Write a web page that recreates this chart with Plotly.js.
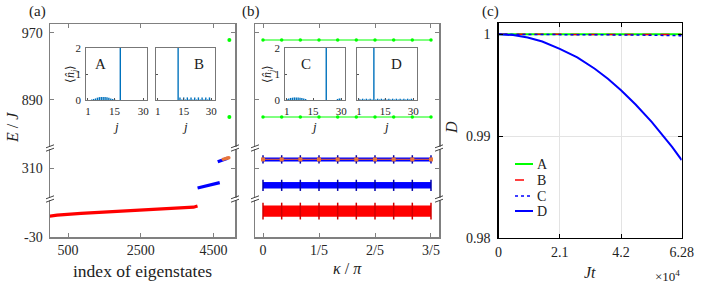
<!DOCTYPE html>
<html><head><meta charset="utf-8">
<script src="https://cdn.plot.ly/plotly-3.0.1.min.js"></script>
<style>html,body{margin:0;padding:0;background:#fff}</style>
</head><body>
<div id="chart" style="width:702px;height:284px"></div>
<script>
// ---------- data ----------
// panel (a): energies vs index of eigenstates
const redIdx = [1, 200, 857, 1800, 2699, 3606, 3950, 4060];
const redE = [-2.6, -1.2, 1.2, 3.6, 5.5, 7.8, 9.2, 10.8];
const blueLowIdx = [4061, 4300, 4500, 4670];
const blueLowE = [286, 288.5, 290.5, 292.4];
const blueUpIdx = [4615, 4700, 4800, 4890];
const blueUpE = [317.4, 318.8, 320.4, 321.8];
const orangeIdx = [4770, 4820, 4860, 4890, 4920];
const orangeE = [320.6, 321.2, 321.6, 322.0, 322.4];
const greenIdx = [4935, 4935];
const greenE = [961.6, 869.7];
// panel (b): energies vs kappa/pi
const kappa = [0, 0.0667, 0.1333, 0.2, 0.2667, 0.3333, 0.4, 0.4667, 0.5333, 0.6];
const greenHigh = [961.6, 961.6, 961.6, 961.6, 961.6, 961.6, 961.6, 961.6, 961.6, 961.6];
const greenLow = [869.7, 869.7, 869.7, 869.7, 869.7, 869.7, 869.7, 869.7, 869.7, 869.7];
const topBandMin = [318.4, 318.4, 318.4, 318.4, 318.4, 318.4, 318.4, 318.4, 318.4, 318.4];
const topBandMax = [322.0, 322.0, 322.0, 322.0, 322.0, 322.0, 322.0, 322.0, 322.0, 322.0];
const topBandMid = [320.3, 320.3, 320.3, 320.3, 320.3, 320.3, 320.3, 320.3, 320.3, 320.3];
const blueBandMin = [286.0, 286.0, 286.0, 286.0, 286.0, 286.0, 286.0, 286.0, 286.0, 286.0];
const blueBandMax = [292.5, 292.5, 292.5, 292.5, 292.5, 292.5, 292.5, 292.5, 292.5, 292.5];
const blueBandMid = [289.2, 289.2, 289.2, 289.2, 289.2, 289.2, 289.2, 289.2, 289.2, 289.2];
const redBandMin = [-2.6, -2.6, -2.6, -2.6, -2.6, -2.6, -2.6, -2.6, -2.6, -2.6];
const redBandMax = [10.8, 10.8, 10.8, 10.8, 10.8, 10.8, 10.8, 10.8, 10.8, 10.8];
const redBandMid = [4.1, 4.1, 4.1, 4.1, 4.1, 4.1, 4.1, 4.1, 4.1, 4.1];
// insets: <n_j> vs j
const sites = [1,2,3,4,5,6,7,8,9,10,11,12,13,14,15,16,17,18,19,20,21,22,23,24,25,26,27,28,29,30];
const nA = [0,0,0.02,0.04,0.06,0.09,0.11,0.12,0.12,0.12,0.11,0.09,0.06,0.04,0.02,0,0,2,0,0,0,0,0,0,0,0,0,0,0,0];
const nB = [0,0,0,0,0,0,0,0,0,0,0,2,0.1,0.02,0.1,0.02,0.1,0.02,0.1,0.02,0.1,0.02,0.1,0.02,0.1,0.02,0.1,0.02,0.1,0.02];
const nC = [0.04,0.06,0.08,0.09,0.1,0.1,0.1,0.09,0.08,0.06,0.04,0,0,0,0,0,0,0,0,0,0,2,0,0,0,0,0,0.04,0.06,0.06];
const nD = [0.05,0.02,0.05,0.02,0.05,0.02,0.05,0.02,2,0.02,0.05,0.02,0.05,0.02,0.05,0.02,0.05,0.02,0.05,0.02,0.05,0.02,0.05,0.02,0.05,0.02,0.05,0.02,0.05,0.02];
// panel (c): D vs Jt
const Jt = [0, 5000, 10000, 15000, 21000, 27000, 33000, 37500, 42000, 47000, 52500, 56500, 59500, 62800];
const dA = [1,1,1,1,1,1,1,1,1,1,1,1,1,1];
const dB = [1,1,1,1,1,1,0.99999,0.99999,0.99999,0.99999,0.99998,0.99998,0.99998,0.99998];
const dC = [1,1,1,0.99999,0.99999,0.99998,0.99997,0.99996,0.99995,0.99993,0.99991,0.99989,0.99988,0.99986];
const dD = [1,0.99992,0.99968,0.99929,0.99857,0.99773,0.99662,0.99563,0.99451,0.99311,0.9914,0.99004,0.98895,0.98765];
const seriesNames = ['A', 'B', 'C', 'D'];
// tick labels
const aXTicks = [500, 2500, 4500];
const aXText = ['500', '2500', '4500'];
const bXTicks = [0, 0.2, 0.4, 0.6];
const bXText = ['0', '1/5', '2/5', '3/5'];
const cXTicks = [0, 21000, 42000, 62800];
const cXText = ['0', '2.1', '4.2', '6.28'];
const cYTicks = [0.98, 0.99, 1];
const cYText = ['0.98', '0.99', '1'];

// ---------- helpers ----------
const W = 702, H = 284;
const PX = p => p / W;
const PY = p => 1 - p / H;
const SERIF = 'Liberation Serif';
const GRAY = '#808080';

const grayAx = {showline:true, linecolor:GRAY, linewidth:1.5, ticks:'inside', ticklen:4, tickcolor:GRAY,
  showgrid:false, zeroline:false, tickfont:{family:SERIF, size:14, color:'#262626'}, tickmode:'array', fixedrange:true};
const insetAx = {showline:true, linecolor:'#555', linewidth:0.8, mirror:true, ticks:'inside', ticklen:2, tickcolor:'#555',
  showgrid:false, zeroline:false, tickfont:{family:SERIF, size:11, color:'#262626'}, tickmode:'array', fixedrange:true};

const segTop = [PY(148), PY(24)], segMid = [PY(199), PY(148)], segBot = [PY(237), PY(199)];
const rTop = [832.7, 980.7], rMid = [272.8, 334], rBot = [-30, 20];

const traces = [];
const noLeg = {showlegend:false, hoverinfo:'skip'};
// panel (a)
traces.push(Object.assign({x:redIdx, y:redE, xaxis:'x', yaxis:'y3', mode:'lines', line:{color:'#ff0000', width:3.2}}, noLeg));
traces.push(Object.assign({x:blueLowIdx, y:blueLowE, xaxis:'x', yaxis:'y2', mode:'lines', line:{color:'#0000ff', width:3.2}}, noLeg));
traces.push(Object.assign({x:blueUpIdx, y:blueUpE, xaxis:'x', yaxis:'y2', mode:'lines', line:{color:'#0000ff', width:3.2}}, noLeg));
traces.push(Object.assign({x:orangeIdx, y:orangeE, xaxis:'x', yaxis:'y2', mode:'markers', marker:{color:'#e8743b', size:3.5, symbol:'circle'}}, noLeg));
traces.push(Object.assign({x:greenIdx, y:greenE, xaxis:'x', yaxis:'y', mode:'markers', marker:{color:'#00ff00', size:4}}, noLeg));
traces.push(Object.assign({x:[], y:[], xaxis:'x8', yaxis:'y', mode:'markers'}, noLeg));
// panel (b)
traces.push(Object.assign({x:kappa, y:greenHigh, xaxis:'x2', yaxis:'y4', mode:'lines+markers', line:{color:'#00ff00', width:1}, marker:{color:'#00ff00', size:3.5}}, noLeg));
traces.push(Object.assign({x:kappa, y:greenLow, xaxis:'x2', yaxis:'y4', mode:'lines+markers', line:{color:'#00ff00', width:1}, marker:{color:'#00ff00', size:3.5}}, noLeg));
traces.push(Object.assign({x:[], y:[], xaxis:'x9', yaxis:'y4', mode:'markers'}, noLeg));
function band(mn, mx, mid, ax, col, mcol, msize){
  traces.push(Object.assign({x:kappa, y:mn, xaxis:'x2', yaxis:ax, mode:'lines', line:{color:col, width:1}}, noLeg));
  traces.push(Object.assign({x:kappa, y:mx, xaxis:'x2', yaxis:ax, mode:'lines', line:{color:col, width:1}, fill:'tonexty', fillcolor:col}, noLeg));
  traces.push(Object.assign({x:kappa, y:mid, xaxis:'x2', yaxis:ax, mode:'markers', marker:{symbol:'line-ns-open', size:msize, color:mcol, line:{color:mcol, width:1.5}}}, noLeg));
}
band(redBandMin, redBandMax, redBandMid, 'y6', '#ff0000', '#d00000', 12);
band(blueBandMin, blueBandMax, blueBandMid, 'y5', '#0000ff', '#0000aa', 8);
band(topBandMin, topBandMax, topBandMid, 'y5', '#0000ff', '#0000aa', 6);
traces.push(Object.assign({x:kappa, y:topBandMid, xaxis:'x2', yaxis:'y5', mode:'lines+markers', line:{color:'#c0504d', width:1.3}, marker:{color:'#e8743b', size:4, symbol:'square'}}, noLeg));
// insets
const insetCol = '#0072bd';
[[nA,'x4','y8'],[nB,'x5','y9'],[nC,'x6','y10'],[nD,'x7','y11']].forEach(([v,xa,ya]) => {
  traces.push(Object.assign({type:'bar', x:sites, y:v, xaxis:xa, yaxis:ya, width:0.75, marker:{color:insetCol, line:{width:0}}}, noLeg));
});
// panel (c)
const cStyles = [
  {color:'#00ff00', width:2, dash:'solid'},
  {color:'#ff0000', width:1.5, dash:'dash'},
  {color:'#0000ff', width:1.5, dash:'dot'},
  {color:'#0000ff', width:2, dash:'solid'}
];
[dA, dB, dC, dD].forEach((d, i) => {
  traces.push({x:Jt, y:d, xaxis:'x3', yaxis:'y7', mode:'lines', name:seriesNames[i], line:cStyles[i], hoverinfo:'skip', showlegend:false});
});

// ---------- layout ----------
const layout = {
  width:W, height:H, margin:{l:0, r:0, t:0, b:0}, paper_bgcolor:'#fff', plot_bgcolor:'#fff',
  font:{family:SERIF, size:14, color:'#222'},
  showlegend:false,
  // panel (a)
  xaxis: Object.assign({}, grayAx, {domain:[PX(50), PX(235)], range:[5, 5090], anchor:'y3', tickvals:aXTicks, ticktext:aXText, ticklabelstandoff:0}),
  xaxis8: Object.assign({}, grayAx, {overlaying:'x', anchor:'y', side:'top', range:[5, 5090], tickvals:aXTicks, ticktext:aXText, showticklabels:false}),
  yaxis: Object.assign({}, grayAx, {domain:segTop, range:rTop, anchor:'x', mirror:'ticks', tickvals:[890, 970], ticktext:['890','970'], ticklabelstandoff:3}),
  yaxis2: Object.assign({}, grayAx, {domain:segMid, range:rMid, anchor:'x', mirror:'ticks', tickvals:[310], ticktext:['310'], ticklabelstandoff:3}),
  yaxis3: Object.assign({}, grayAx, {domain:segBot, range:rBot, anchor:'x', mirror:'ticks', tickvals:[-30], ticktext:['-30'], ticklabelstandoff:3}),
  // panel (b)
  xaxis2: Object.assign({}, grayAx, {domain:[PX(255), PX(439)], range:[-0.0286, 0.6286], anchor:'y6', tickvals:bXTicks, ticktext:bXText, ticklabelstandoff:0}),
  xaxis9: Object.assign({}, grayAx, {overlaying:'x2', anchor:'y4', side:'top', range:[-0.0286, 0.6286], tickvals:bXTicks, ticktext:bXText, showticklabels:false}),
  yaxis4: Object.assign({}, grayAx, {domain:segTop, range:rTop, anchor:'x2', mirror:'ticks', tickvals:[890, 970], showticklabels:false}),
  yaxis5: Object.assign({}, grayAx, {domain:segMid, range:rMid, anchor:'x2', mirror:'ticks', tickvals:[310], showticklabels:false}),
  yaxis6: Object.assign({}, grayAx, {domain:segBot, range:rBot, anchor:'x2', mirror:'ticks', tickvals:[-30], showticklabels:false}),
  // panel (c)
  xaxis3: {domain:[PX(498.5), PX(681.7)], range:[0, 62800], anchor:'y7', showline:true, linecolor:'#000', linewidth:1.2, mirror:'ticks',
    ticks:'inside', ticklen:4, tickcolor:'#000', showgrid:true, gridcolor:'#e3e3e3', gridwidth:1, zeroline:false,
    tickmode:'array', tickvals:cXTicks, ticktext:cXText, tickfont:{family:SERIF, size:14, color:'#222'}, ticklabelstandoff:1, fixedrange:true},
  yaxis7: {domain:[PY(238), PY(23.3)], range:[0.98, 1.00108], anchor:'x3', showline:true, linecolor:'#000', linewidth:1.2, mirror:'ticks',
    ticks:'inside', ticklen:4, tickcolor:'#000', showgrid:true, gridcolor:'#e3e3e3', gridwidth:1, zeroline:false,
    tickmode:'array', tickvals:cYTicks, ticktext:cYText, tickfont:{family:SERIF, size:14, color:'#222'}, ticklabelstandoff:4, fixedrange:true},
  annotations:[], shapes:[]
};
// insets
const insetBoxes = [[86,147,true,'x4','y8'],[156,215,false,'x5','y9'],[285,345,true,'x6','y10'],[357,417,false,'x7','y11']];
insetBoxes.forEach(([l,r,lab,xa,ya]) => {
  layout['xaxis'+xa.slice(1)] = Object.assign({}, insetAx, {domain:[PX(l), PX(r)], range:[0, 32], anchor:ya, tickvals:[1,15,30], ticktext:['1','15','30'], ticklabelstandoff:1});
  layout['yaxis'+ya.slice(1)] = Object.assign({}, insetAx, {domain:[PY(100), PY(48)], range:[0, 2], anchor:xa, tickvals:[0,1,2], ticktext:['0','1','2'], showticklabels:lab, ticklabelstandoff:2});
});

function ann(x, y, text, size, extra){
  layout.annotations.push(Object.assign({xref:'paper', yref:'paper', x:PX(x), y:PY(y), text:text, showarrow:false,
    xanchor:'center', yanchor:'middle', font:{family:SERIF, size:size, color:'#222'}}, extra||{}));
}
ann(37, 12, '(a)', 15);
ann(251, 12, '(b)', 15);
ann(490, 12, '(c)', 15);
ann(12, 128, '<i>E</i> / <i>J</i>', 16, {textangle:-90});
ann(142, 271, 'index of eigenstates', 17.5);
ann(347, 268, '<i>κ</i> / <i>π</i>', 16);
ann(451, 128, '<i>D</i>', 16, {textangle:-90});
ann(590, 272, '<i>Jt</i>', 16);
ann(667, 276, '×10<sup>4</sup>', 13);
ann(100, 64, 'A', 15);
ann(199, 64, 'B', 15);
ann(306, 64, 'C', 15);
ann(396, 64, 'D', 15);
[115.5, 184.5, 314, 386].forEach(cx => ann(cx, 126, '<i>j</i>', 13));
ann(71, 74, '⟨<i>n̂<sub>j</sub></i>⟩', 12, {textangle:-90});
ann(268, 74, '⟨<i>n̂<sub>j</sub></i>⟩', 12, {textangle:-90});

// legend of panel (c): sample line + name for each series
const legY = [164, 180, 196, 211];
seriesNames.forEach((nm, i) => {
  layout.shapes.push({type:'line', xref:'paper', yref:'paper', x0:PX(515), x1:PX(533), y0:PY(legY[i]), y1:PY(legY[i]),
    line:{color:cStyles[i].color, width:cStyles[i].width, dash:cStyles[i].dash}});
  ann(535, legY[i], nm, 14, {xanchor:'left'});
});

// axis-break marks
[50, 235, 255, 439].forEach(cx => {
  [148, 199].forEach(cy => {
    layout.shapes.push({type:'rect', xref:'paper', yref:'paper', x0:PX(cx-2.5), x1:PX(cx+2.5), y0:PY(cy+1.2), y1:PY(cy-1.2),
      fillcolor:'#fff', line:{width:0}, layer:'above'});
    [-1.7, 1.7].forEach(d => {
      layout.shapes.push({type:'line', xref:'paper', yref:'paper', x0:PX(cx-4), y0:PY(cy+d+1.5), x1:PX(cx+4), y1:PY(cy+d-1.5),
        line:{color:'#444', width:1}, layer:'above'});
    });
  });
});

Plotly.newPlot('chart', traces, layout, {staticPlot:true, displayModeBar:false});
</script>
</body></html>
